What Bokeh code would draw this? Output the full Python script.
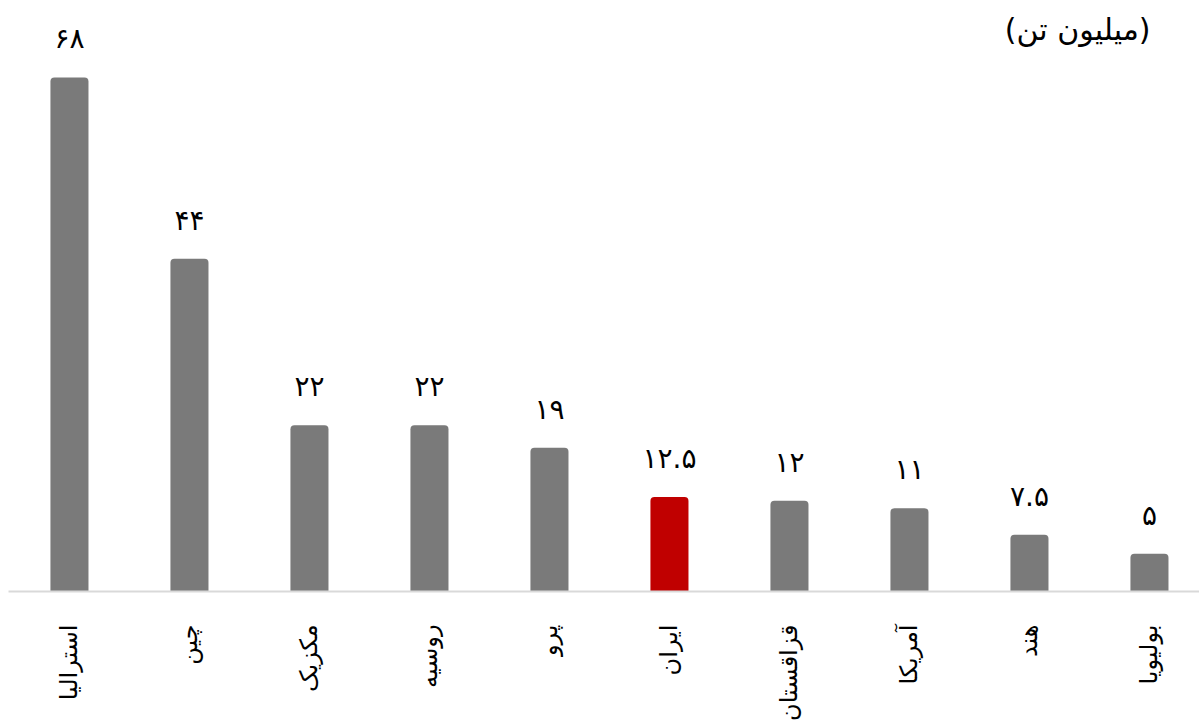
import math
from bokeh.plotting import figure
from bokeh.models import ColumnDataSource, FixedTicker, Label
from bokeh.core.properties import value
from bokeh.embed import file_html
from bokeh.resources import INLINE

countries = ["استرالیا", "چین", "مکزیک", "روسیه", "پرو", "ایران", "قزاقستان", "آمریکا", "هند", "بولیویا"]
values = [68, 44, 22, 22, 19, 12.5, 12, 11, 7.5, 5]
value_labels = ["۶۸", "۴۴", "۲۲", "۲۲", "۱۹", "۱۲.۵", "۱۲", "۱۱", "۷.۵", "۵"]
colors = ["#7a7a7a"] * 5 + ["#c00000"] + ["#7a7a7a"] * 4
unit_title = "(میلیون تن)"

FONT = "DejaVu Sans"
xs = list(range(len(countries)))
src = ColumnDataSource(dict(x=xs, top=values, lab=value_labels, color=colors))

frame_w, frame_h = 1191, 583
p = figure(width=frame_w + 8, height=727, output_backend="svg", toolbar_location=None,
           x_range=(-0.508, -0.508 + frame_w / 120), y_range=(0, frame_h / 7.56),
           min_border_left=8, min_border_right=0, min_border_top=8, min_border_bottom=0)
p.frame_height = frame_h
p.frame_width = frame_w
p.outline_line_color = None
p.grid.visible = False
p.yaxis.visible = False
p.background_fill_color = "white"
p.border_fill_color = "white"

p.vbar(x="x", top="top", bottom=0, width=0.317, fill_color="color", line_color=None,
       border_radius=(4, 4, 0, 0), source=src)
p.text(x="x", y="top", text="lab", text_align="center", text_baseline="bottom",
       y_offset=-22, text_font=value(FONT), text_font_size="28px", text_color="black", source=src)

ax = p.xaxis[0]
ax.ticker = FixedTicker(ticks=xs)
ax.major_label_overrides = {i: c for i, c in enumerate(countries)}
ax.major_label_orientation = math.pi / 2
ax.major_label_text_font = FONT
ax.major_label_text_font_size = "24px"
ax.major_label_text_color = "black"
ax.major_label_standoff = 27
ax.major_tick_line_color = None
ax.minor_tick_line_color = None
ax.axis_line_color = "#d9d9d9"
ax.axis_line_width = 2

p.add_layout(Label(x=1142, y=562, x_units="screen", y_units="screen", text=unit_title,
                   text_align="right", text_baseline="middle", text_font=FONT,
                   text_font_size="30px", text_color="black"))

open("out.html", "w").write(file_html(p, INLINE))
